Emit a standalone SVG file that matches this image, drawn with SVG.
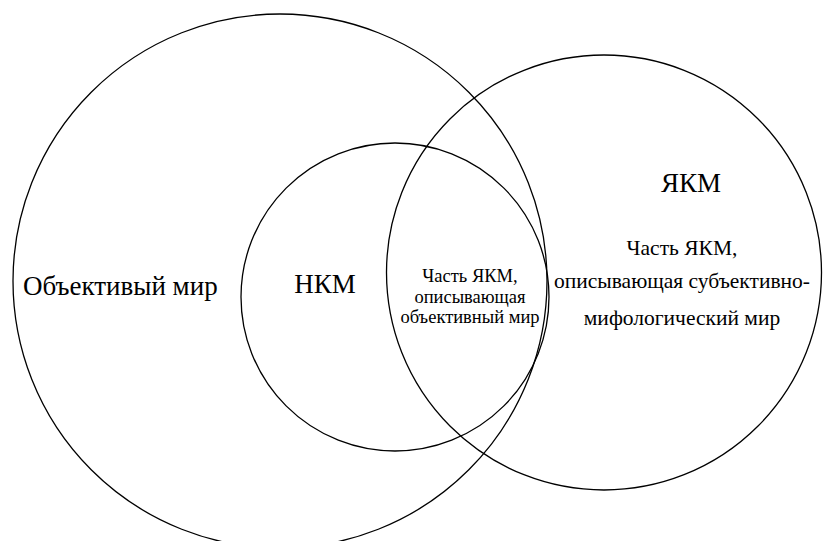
<svg xmlns="http://www.w3.org/2000/svg" width="824" height="541" viewBox="0 0 824 541">
<style>
.c{fill:none;stroke:#000;stroke-width:1.3}
.t{font-family:"Liberation Serif","Times New Roman",serif;fill:#000;text-anchor:middle}
.big{font-size:27px}
.mid{font-size:21.5px}
.sm{font-size:18.5px}
</style>
<rect width="824" height="541" fill="#fff"/>
<g id="objective-world">
<circle class="c" cx="280" cy="281" r="267"/>
<text class="t big" x="23" y="295" style="text-anchor:start">Объективый мир</text>
</g>
<g id="nkm">
<circle class="c" cx="395" cy="297" r="154"/>
<text class="t big" x="325" y="293">НКМ</text>
</g>
<g id="yakm">
<circle class="c" cx="604" cy="272.5" r="217.5"/>
<text class="t big" x="691" y="192">ЯКМ</text>
<text class="t mid" x="682" y="255">Часть ЯКМ,</text>
<text class="t mid" x="682" y="288">описывающая субъективно-</text>
<text class="t mid" x="682" y="325">мифологический мир</text>
</g>
<g id="intersection">
<text class="t sm" x="470" y="282">Часть ЯКМ,</text>
<text class="t sm" x="470" y="303">описывающая</text>
<text class="t sm" x="470" y="323">объективный мир</text>
</g>
<g id="connectors"/>
</svg>
